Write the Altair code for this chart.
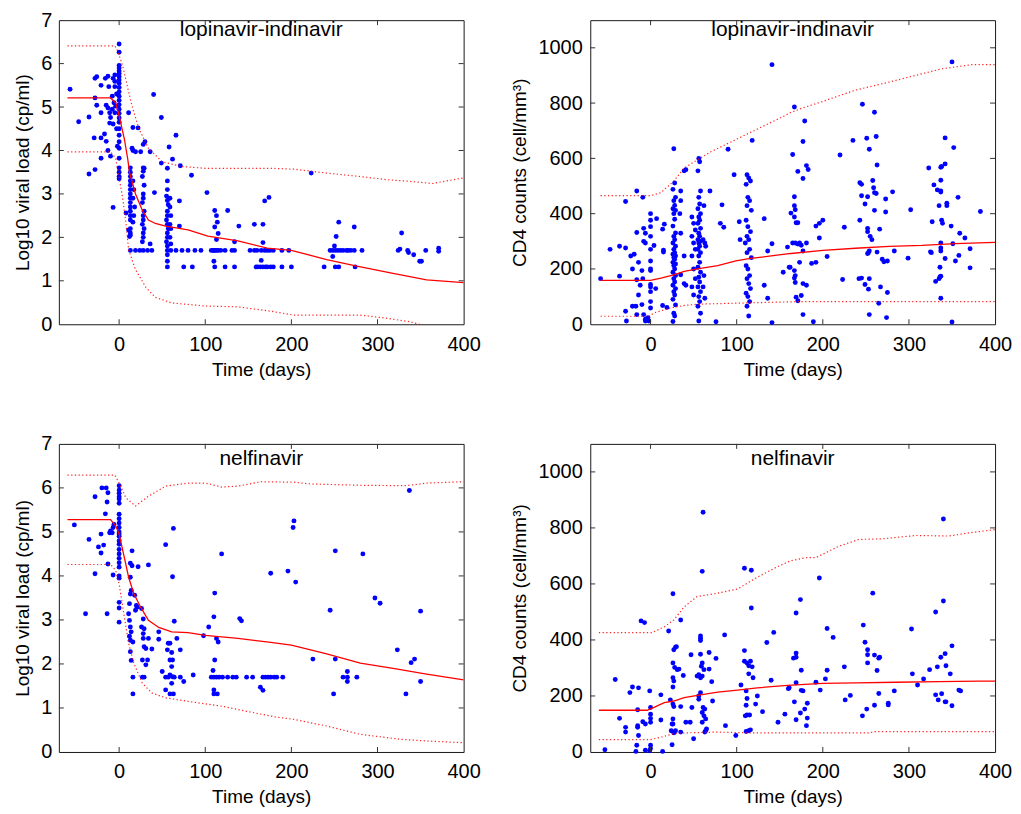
import altair as alt
import pandas as pd

FONT = "Liberation Sans"
BLUE = "#0000FF"
RED = "#FF0000"

X_LABELS = [0, 100, 200, 300, 400]
X_INNER_TICKS = [0, 100, 200, 300]
VL_LABELS = [0, 1, 2, 3, 4, 5, 6, 7]
VL_INNER_TICKS = [1, 2, 3, 4, 5, 6]
CD4_LABELS = [0, 200, 400, 600, 800, 1000]
CD4_INNER_TICKS = [200, 400, 600, 800, 1000]

# ---------------- lopinavir-indinavir : viral load ----------------
A_points = [
    (-57, 5.41), (-47, 4.66), (-35, 4.77), (-35, 3.46), (-28, 3.56), (-29, 4.29), (-28, 5.21),
    (-28, 5.66), (-26, 5.70), (-26, 5.04), (-21, 5.50), (-21, 4.87), (-21, 4.29), (-21, 3.82),
    (-17, 4.38), (-15, 4.21), (-13, 4.00), (-16, 5.66), (-13, 5.71), (-12, 5.47), (-15, 5.04),
    (-13, 4.98), (-11, 4.87), (-10, 3.87), (-7, 2.69), (-10, 4.76), (-11, 4.63), (-8, 4.95),
    (-7, 5.66), (-5, 5.59), (-5, 5.74), (-5, 5.47), (-8, 5.25), (-6, 5.10), (-5, 4.87), (-7, 4.61),
    (-4, 5.02), (-3, 4.50), (-2, 4.10), (-3, 5.30),
    (0, 6.45), (0, 6.26), (0, 5.96), (0, 5.90), (0, 5.83), (0, 5.77), (0, 5.70), (0, 5.62), (0, 5.55),
    (0, 5.45), (0, 5.35), (0, 5.25), (0, 5.15), (0, 5.05), (0, 4.95), (0, 4.85), (0, 4.75), (0, 4.65),
    (0, 4.50), (0, 4.35), (0, 4.20), (0, 4.05), (0, 3.82), (0, 3.60), (0, 3.50), (0, 3.40), (0, 3.35),
    (11, 4.87), (16, 4.53), (22, 4.52), (28, 4.14), (40, 5.29), (49, 4.76), (66, 4.35), (58, 4.08),
    (62, 3.80), (71, 3.65), (36, 3.97), (49, 3.71), (56, 3.59), (84, 3.43), (29, 3.59), (28, 3.52),
    (30, 4.20), (15, 4.05), (16, 4.00), (19, 3.97), (25, 3.97),
    (13, 3.60), (13, 3.50), (13, 3.40), (13, 3.30), (13, 3.20), (13, 3.10), (13, 3.00), (13, 2.90),
    (13, 2.80), (13, 2.70), (13, 2.60), (13, 2.50), (13, 2.40), (13, 2.20), (13, 2.10), (13, 2.05),
    (13, 1.70), (16, 3.30), (17, 3.10), (16, 2.90), (18, 2.70), (17, 2.50), (16, 2.35),
    (28, 3.60), (27, 3.40), (29, 3.20), (28, 3.00), (28, 2.90), (27, 2.80), (29, 2.60), (28, 2.50),
    (28, 2.40), (27, 2.30), (29, 2.20), (28, 2.10), (28, 2.00), (27, 1.90), (28, 1.70),
    (8, 2.56), (11, 2.17), (12, 2.02), (24, 1.70), (36, 1.85), (41, 3.03), (33, 1.70), (38, 1.70),
    (19, 1.70),
    (56, 3.30), (56, 3.10), (55, 2.95), (56, 2.85), (57, 2.75), (56, 2.60), (56, 2.50), (55, 2.40),
    (56, 2.30), (57, 2.20), (56, 2.10), (56, 2.00), (55, 1.90), (56, 1.80), (56, 1.70), (56, 1.60),
    (56, 1.45), (56, 1.32), (59, 2.90), (59, 2.70), (60, 2.50), (59, 2.30), (60, 2.20), (59, 2.00),
    (60, 1.85), (60, 1.70),
    (70, 2.84), (70, 2.26), (66, 1.70), (73, 1.70), (80, 1.70), (88, 1.70), (95, 1.70), (75, 1.32),
    (85, 1.32), (102, 3.03),
    (111, 2.62), (113, 2.50), (114, 2.35), (111, 2.24), (115, 2.09), (113, 1.95),
    (107, 1.70), (109, 1.70), (110, 1.70), (111, 1.70), (113, 1.70), (115, 1.70), (118, 1.70),
    (110, 1.45), (111, 1.32), (123, 1.32), (126, 2.62), (139, 2.26), (134, 1.90), (123, 1.70),
    (131, 1.70), (134, 1.70), (134, 1.32),
    (157, 2.30), (167, 2.30), (167, 1.88), (165, 1.47), (152, 1.70), (157, 1.70), (160, 1.70),
    (159, 1.32), (161, 1.32), (164, 1.32), (167, 1.32), (170, 1.32), (172, 1.32), (176, 1.32),
    (179, 1.32), (189, 1.32), (200, 1.32), (169, 2.84), (174, 2.92),
    (165, 1.70), (169, 1.70), (172, 1.70), (175, 1.70), (179, 1.70), (189, 1.70), (197, 1.70),
    (223, 3.48),
    (245, 1.70), (248, 1.70), (251, 1.70), (254, 1.70), (257, 1.70), (260, 1.70), (264, 1.70),
    (266, 1.70), (269, 1.70), (273, 1.70), (282, 1.70),
    (248, 1.56), (252, 2.02), (255, 2.35), (250, 1.80), (273, 2.24),
    (238, 1.32), (251, 1.32), (255, 1.32), (274, 1.32),
    (324, 1.70), (326, 1.73), (328, 2.10), (335, 1.70), (336, 1.65), (342, 1.60), (349, 1.45),
    (351, 1.45), (356, 1.70), (371, 1.75), (371, 1.68),
]
A_mean = [(-60, 5.21), (-10, 5.21), (-4, 5.10), (0, 4.80), (6, 4.27), (10, 3.80), (12, 3.50),
          (19, 3.00), (27, 2.62), (34, 2.40), (42, 2.32), (54, 2.26), (80, 2.17), (103, 2.03),
          (138, 1.92), (172, 1.75), (200, 1.70), (241, 1.49), (276, 1.34), (318, 1.17), (357, 1.02),
          (400, 0.96)]
A_upper = [(-60, 6.41), (-5, 6.41), (-2, 6.30), (4, 5.96), (10, 5.44), (15, 5.02), (23, 4.50),
           (34, 4.05), (50, 3.74), (73, 3.63), (100, 3.59), (138, 3.59), (176, 3.59), (203, 3.57),
           (241, 3.48), (280, 3.40), (310, 3.33), (337, 3.29), (364, 3.24), (400, 3.37)]
A_lower = [(-60, 3.97), (-10, 3.97), (-4, 3.82), (0, 3.37), (4, 2.92), (8, 2.32), (11, 1.71),
           (19, 1.26), (31, 0.85), (42, 0.62), (61, 0.49), (100, 0.42), (138, 0.40), (176, 0.30),
           (203, 0.21), (241, 0.21), (280, 0.21), (310, 0.14), (337, 0.06), (349, 0.0), (400, -0.25)]

# ---------------- lopinavir-indinavir : CD4 ----------------
B_points = [
    (-58, 165), (-47, 271), (-36, 282), (-29, 444), (-29, 276), (-36, 174), (-29, 47), (-28, 12),
    (-21, 200), (-23, 247), (-19, 253), (-16, 482), (-9, 459), (-16, 332), (-14, 224), (-16, 161),
    (-12, 141), (-14, 106), (-17, 65), (-21, 65), (-10, 71), (-16, 35), (-8, 35), (-6, 12),
    (-8, 347), (-6, 329), (-8, 300), (-6, 294), (-10, 194), (-9, 165),
    (0, 400), (0, 376), (0, 353), (0, 318), (0, 271), (0, 229), (0, 200), (0, 194), (0, 144),
    (0, 135), (0, 118), (0, 82), (0, 59), (-3, 24), (-2, 12), (-6, 18),
    (7, 382), (16, 362), (14, 344), (15, 268), (15, 261), (4, 285), (6, 129), (14, 68), (19, 61),
    (27, 635), (28, 511), (26, 488), (29, 459), (27, 447), (28, 430), (26, 418), (29, 412),
    (27, 400), (28, 380), (26, 355), (29, 330), (27, 318), (28, 306), (26, 294), (29, 282),
    (27, 271), (28, 259), (26, 253), (29, 247), (27, 241), (28, 235), (26, 224), (29, 218),
    (27, 212), (28, 200), (26, 188), (29, 176), (27, 165), (28, 153), (26, 141), (29, 129),
    (27, 118), (28, 106), (26, 90), (29, 70), (27, 40), (28, 30), (26, 10),
    (35, 482), (35, 447), (35, 329), (34, 400), (39, 555), (41, 559), (41, 141), (39, 247),
    (35, 179), (39, 147),
    (56, 600), (57, 588), (55, 555), (58, 482), (56, 459), (57, 435), (55, 418), (58, 400),
    (56, 388), (57, 376), (55, 365), (58, 347), (56, 329), (57, 318), (55, 306), (58, 300),
    (56, 294), (57, 282), (55, 271), (58, 259), (56, 247), (57, 224), (55, 206), (58, 188),
    (56, 170), (57, 153), (55, 135), (58, 118), (56, 100), (57, 82), (55, 65), (58, 40), (56, 12),
    (48, 388), (50, 365), (52, 341), (48, 318), (50, 294), (52, 271), (48, 247), (50, 200),
    (52, 165), (48, 135), (50, 106),
    (62, 429), (61, 306), (63, 294), (64, 282), (62, 176), (61, 135), (63, 94),
    (69, 482), (76, 9), (81, 365), (85, 351), (83, 432), (90, 633), (97, 541),
    (118, 665), (112, 541), (114, 529), (116, 518), (111, 506), (113, 459), (115, 447), (112, 429),
    (117, 412), (111, 376), (113, 353), (116, 335), (112, 318), (114, 306), (110, 294), (115, 271),
    (112, 259), (117, 241), (111, 212), (113, 200), (115, 176), (112, 165), (114, 147), (116, 129),
    (111, 112), (113, 100), (115, 82), (112, 65), (114, 30),
    (103, 371), (104, 306),
    (132, 382), (136, 265), (141, 939), (141, 291), (141, 6), (136, 94), (132, 141), (154, 188),
    (159, 279), (161, 206),
    (167, 786), (179, 735), (177, 661), (165, 614), (171, 553), (181, 574), (183, 560), (177, 527),
    (167, 461), (167, 429), (168, 414), (167, 388), (169, 367), (171, 367), (163, 402), (165, 294),
    (168, 294), (171, 290), (173, 294), (175, 286), (181, 294), (177, 265), (162, 206), (173, 224),
    (167, 194), (168, 176), (167, 167), (168, 151), (177, 147), (181, 141), (169, 98), (175, 104),
    (171, 85), (177, 35), (189, 9), (192, 355), (196, 365), (200, 376), (196, 312), (187, 220),
    (192, 224), (205, 245), (220, 612), (225, 351), (223, 162), (235, 665), (246, 796), (251, 673),
    (254, 633), (262, 679), (260, 767), (263, 576), (243, 512), (245, 506), (258, 520), (259, 494),
    (260, 476), (262, 473), (245, 465), (252, 461), (249, 435), (260, 412), (273, 453), (281, 479),
    (273, 406), (243, 376), (252, 347), (252, 335), (255, 318), (257, 306), (266, 344), (254, 265),
    (252, 256), (253, 259), (263, 261), (269, 235), (271, 226), (275, 229), (283, 265), (299, 239),
    (302, 414), (242, 165), (245, 167), (249, 144), (254, 165), (253, 127), (267, 135), (275, 115),
    (265, 76), (254, 35), (274, 24),
    (323, 565), (327, 371), (326, 259), (325, 262), (329, 504), (333, 486), (337, 482), (337, 478),
    (337, 568), (338, 571), (342, 580), (342, 674), (352, 639), (337, 521), (335, 429), (344, 438),
    (344, 429), (338, 376), (339, 365), (349, 355), (337, 294), (337, 276), (337, 265), (342, 238),
    (336, 206), (336, 171), (337, 174), (335, 165), (331, 155), (337, 94), (350, 8), (351, 291),
    (354, 229), (358, 249), (357, 459), (359, 329), (365, 312), (371, 273), (371, 204), (383, 408),
    (350, 949),
]
B_mean = [(-58, 159), (0, 159), (12, 167), (27, 179), (39, 191), (58, 202), (78, 212), (99, 229),
          (116, 238), (140, 247), (163, 256), (200, 267), (238, 275), (277, 282), (315, 285),
          (354, 292), (400, 296)]
B_upper = [(-58, 465), (0, 465), (12, 476), (27, 518), (39, 565), (54, 594), (70, 624), (97, 665),
           (124, 706), (155, 753), (162, 765), (176, 782), (200, 806), (238, 847), (277, 876),
           (315, 906), (338, 924), (373, 939), (400, 939)]
B_lower = [(-58, 29), (-2, 29), (4, 41), (23, 59), (39, 68), (58, 73), (97, 76), (136, 79),
           (174, 82), (400, 82)]

# ---------------- nelfinavir : viral load ----------------
C_points = [
    (-52, 5.16), (-39, 3.14), (-35, 4.83), (-28, 5.80), (-28, 4.05), (-24, 4.66), (-21, 4.52),
    (-21, 4.95), (-18, 4.70), (-20, 6.00), (-16, 5.41), (-15, 6.00), (-13, 5.89), (-14, 5.68),
    (-14, 3.14), (-13, 4.27), (-11, 4.98), (-10, 5.02), (-8, 4.98), (-7, 5.10), (-6, 5.17),
    (-7, 4.02),
    (0, 6.05), (0, 5.95), (0, 5.88), (0, 5.80), (0, 5.75), (0, 5.65), (0, 5.40), (0, 5.30),
    (0, 5.20), (0, 5.10), (0, 5.00), (0, 4.95), (0, 4.90), (0, 4.80), (0, 4.72), (0, 4.60),
    (0, 4.50), (0, 4.40), (0, 4.30), (0, 4.20), (0, 4.00), (0, 3.95), (0, 3.40), (0, 3.27), (0, 2.95),
    (15, 4.57), (13, 4.29), (15, 4.23), (22, 4.21), (34, 4.25), (13, 3.97),
    (14, 3.67), (13, 3.59), (12, 3.37), (11, 3.14), (12, 2.99), (13, 2.84), (12, 2.63), (13, 2.54),
    (14, 2.73), (16, 2.50), (13, 2.28), (14, 2.08), (16, 1.70), (16, 1.32),
    (18, 3.56), (20, 3.33), (21, 3.29), (19, 3.22), (26, 3.26), (28, 3.02), (26, 2.84), (29, 2.80),
    (28, 2.69), (28, 2.58), (29, 2.39), (31, 2.35), (33, 2.09), (27, 2.09), (31, 1.98), (27, 1.70),
    (29, 1.70),
    (34, 2.58), (38, 2.34), (46, 2.73), (46, 2.56),
    (54, 4.71), (63, 5.08), (62, 3.98), (64, 2.97),
    (57, 2.47), (59, 2.47), (56, 2.32), (61, 2.26), (59, 2.09), (62, 2.09), (61, 1.94), (50, 1.83),
    (54, 1.70), (57, 1.70), (59, 1.75), (62, 1.71), (64, 1.70), (61, 1.56), (54, 1.41), (59, 1.32),
    (63, 1.32), (71, 2.32), (71, 1.70), (75, 1.60), (86, 1.75), (67, 2.58),
    (98, 2.64), (104, 2.84), (110, 3.07), (111, 3.61), (111, 2.09), (109, 1.85), (113, 2.58),
    (115, 2.50), (119, 4.50),
    (107, 1.70), (110, 1.70), (113, 1.70), (116, 1.70), (120, 1.70), (126, 1.70), (132, 1.70),
    (136, 1.70), (110, 1.41), (110, 1.32), (114, 1.32), (140, 3.03), (142, 2.98),
    (148, 1.70), (155, 1.70), (167, 1.70), (170, 1.70), (173, 1.70), (176, 1.70), (180, 1.70),
    (183, 1.70), (190, 1.70), (164, 1.47), (167, 1.40), (176, 4.06),
    (196, 4.11), (203, 5.25), (202, 5.10), (205, 3.86), (225, 2.11), (245, 3.22), (251, 4.57),
    (251, 2.11), (249, 1.32), (260, 1.70), (265, 1.83), (265, 1.70), (265, 1.60), (276, 1.70),
    (283, 4.50), (297, 3.50), (303, 3.38), (323, 2.32), (333, 1.32), (337, 5.94), (339, 2.03),
    (343, 2.11), (350, 3.20), (350, 1.60),
]
C_mean = [(-60, 5.28), (-10, 5.28), (-4, 5.14), (0, 4.95), (6, 4.42), (11, 3.97), (17, 3.60),
          (25, 3.29), (34, 2.99), (46, 2.83), (61, 2.73), (80, 2.71), (100, 2.65), (138, 2.58),
          (176, 2.49), (200, 2.43), (241, 2.23), (280, 2.02), (318, 1.90), (357, 1.77), (400, 1.64)]
C_upper = [(-60, 6.29), (-5, 6.29), (0, 6.11), (8, 5.77), (19, 5.59), (34, 5.81), (54, 6.04),
           (80, 6.11), (100, 6.11), (119, 6.02), (138, 6.04), (165, 6.14), (203, 6.13), (222, 6.09),
           (280, 6.06), (333, 6.05), (357, 6.11), (400, 6.14)]
C_lower = [(-60, 4.26), (-10, 4.26), (-4, 4.12), (0, 3.82), (6, 3.07), (11, 2.47), (17, 2.02),
           (27, 1.56), (38, 1.34), (54, 1.23), (80, 1.15), (119, 1.04), (157, 0.89), (180, 0.80),
           (203, 0.74), (241, 0.59), (280, 0.40), (326, 0.29), (357, 0.25), (400, 0.21)]

# ---------------- nelfinavir : CD4 ----------------
D_points = [
    (-53, 8), (-41, 259), (-36, 120), (-29, 88), (-29, 71), (-24, 212), (-21, 232), (-14, 229),
    (-17, 2), (-16, 24), (-15, 88), (-15, 94), (-14, 59), (-15, 151), (-11, 468), (-7, 462),
    (-9, 108), (-6, 100), (-6, 6), (-1, 218), (0, 159), (0, 135), (0, 120), (0, 106), (0, 24),
    (0, 12), (-1, 4),
    (12, 204), (12, 114), (14, 2), (21, 432), (26, 565), (35, 471), (23, 186), (27, 162), (26, 100),
    (27, 365), (29, 374), (30, 376), (26, 318), (28, 302), (33, 296), (31, 294), (38, 273),
    (26, 265), (27, 253), (26, 232), (26, 171), (26, 118), (25, 100), (24, 76), (29, 76), (27, 68),
    (35, 71), (25, 26), (35, 162), (41, 106), (46, 106), (47, 347), (48, 159), (50, 47),
    (54, 271), (56, 276), (58, 265), (60, 271), (56, 200), (58, 212), (56, 188), (58, 406),
    (58, 398), (58, 414), (58, 349), (60, 645), (61, 856), (59, 306), (60, 318), (62, 294),
    (61, 159), (63, 153), (60, 141), (62, 129), (60, 106), (64, 118), (65, 82), (64, 76), (63, 71),
    (68, 355), (68, 296), (71, 251), (72, 182), (76, 334), (87, 94), (86, 418), (99, 59),
    (105, 239), (109, 362), (109, 324), (109, 656), (117, 649), (117, 514), (111, 218), (112, 191),
    (111, 167), (112, 132), (110, 129), (115, 132), (112, 318), (114, 308), (116, 324), (118, 304),
    (119, 265), (114, 279), (111, 73), (114, 76), (116, 79), (124, 200), (122, 171), (130, 144),
    (135, 391), (143, 427), (140, 256), (148, 106), (156, 135), (160, 226), (161, 229),
    (166, 335), (169, 338), (169, 353), (169, 496), (174, 544), (175, 292), (169, 247), (175, 220),
    (177, 218), (167, 179), (174, 139), (179, 153), (182, 174), (169, 115), (182, 121), (181, 94),
    (196, 621), (197, 221), (192, 249), (203, 261), (205, 441), (205, 292), (212, 409), (225, 304),
    (226, 186), (232, 202), (247, 453), (249, 392), (252, 365), (252, 347), (252, 318), (258, 567),
    (260, 346), (265, 335), (266, 338), (263, 291), (265, 209), (260, 167), (251, 153), (246, 129),
    (276, 174), (276, 168), (283, 218), (303, 439), (304, 279), (310, 239), (317, 261), (324, 294),
    (331, 500), (333, 304), (331, 204), (334, 186), (338, 208), (342, 179), (343, 179), (350, 165),
    (337, 338), (342, 351), (343, 308), (348, 279), (350, 379), (340, 539), (340, 832), (358, 221),
    (360, 218),
]
D_mean = [(-60, 149), (-4, 149), (4, 159), (16, 176), (27, 182), (39, 194), (58, 204), (78, 214),
          (101, 221), (124, 229), (159, 238), (200, 245), (238, 247), (285, 249), (335, 251),
          (381, 253), (400, 253)]
D_upper = [(-60, 426), (2, 426), (16, 447), (27, 471), (39, 518), (54, 555), (78, 567), (101, 582),
           (124, 624), (147, 661), (162, 682), (181, 694), (192, 694), (219, 735), (242, 759),
           (269, 761), (308, 773), (346, 771), (369, 782), (400, 794)]
D_lower = [(-60, 44), (0, 44), (12, 53), (27, 65), (39, 68), (78, 71), (116, 68), (155, 68),
           (254, 68), (260, 73), (400, 73)]


def frame(pairs):
    return pd.DataFrame(pairs, columns=["day", "val"])


def panel(points, mean, upper, lower, title, ydom, ylabels, yinner, ytitle, w, h, title_y, ylabpad):
    xsc = alt.Scale(domain=[-70, 400], nice=False, zero=False)
    ysc = alt.Scale(domain=ydom, nice=False, zero=False)
    X = alt.X("day:Q", scale=xsc,
              axis=alt.Axis(values=X_LABELS, format="d", title="Time (days)",
                            labelPadding=10, titlePadding=6))
    Y = alt.Y("val:Q", scale=ysc,
              axis=alt.Axis(values=ylabels, format="d", title=ytitle,
                            labelPadding=ylabpad, titlePadding=8))
    pts = alt.Chart(frame(points)).mark_point(
        shape="circle", filled=True, size=24, color=BLUE, opacity=1
    ).encode(x=X, y=Y)
    m = alt.Chart(frame(mean)).mark_line(color=RED, strokeWidth=1.3, clip=True).encode(x=X, y=Y)
    u = alt.Chart(frame(upper)).mark_line(
        color=RED, strokeWidth=1.2, strokeDash=[1.3, 2.4], clip=True, opacity=0.85
    ).encode(x=X, y=Y)
    lo = alt.Chart(frame(lower)).mark_line(
        color=RED, strokeWidth=1.2, strokeDash=[1.3, 2.4], clip=True, opacity=0.85
    ).encode(x=X, y=Y)
    xt = pd.DataFrame({"day": X_INNER_TICKS})
    yt = pd.DataFrame({"val": yinner})
    tick_col = "#333333"
    xt_top = alt.Chart(xt).mark_rule(color=tick_col, strokeWidth=1).encode(
        x=X, y=alt.value(0), y2=alt.value(5))
    xt_bot = alt.Chart(xt).mark_rule(color=tick_col, strokeWidth=1).encode(
        x=X, y=alt.value(h - 5), y2=alt.value(h))
    yt_left = alt.Chart(yt).mark_rule(color=tick_col, strokeWidth=1).encode(
        y=Y, x=alt.value(0), x2=alt.value(5))
    yt_right = alt.Chart(yt).mark_rule(color=tick_col, strokeWidth=1).encode(
        y=Y, x=alt.value(w - 5), x2=alt.value(w))
    ttl = alt.Chart(pd.DataFrame({"t": [title]})).mark_text(
        font=FONT, fontSize=21, color="black", align="center", baseline="alphabetic"
    ).encode(text="t:N", x=alt.value(w / 2), y=alt.value(title_y))
    return alt.layer(pts, m, u, lo, xt_top, xt_bot, yt_left, yt_right, ttl).properties(
        width=w, height=h)


W = 406
H_TOP = 305
H_BOT = 309

pA = panel(A_points, A_mean, A_upper, A_lower, "lopinavir-indinavir", [0, 7], VL_LABELS,
           VL_INNER_TICKS, "Log10 viral load (cp/ml)", W, H_TOP, 16, 7)
pB = panel(B_points, B_mean, B_upper, B_lower, "lopinavir-indinavir", [0, 1100], CD4_LABELS,
           CD4_INNER_TICKS, "CD4 counts (cell/mm³)", W, H_TOP, 16, 8)
pC = panel(C_points, C_mean, C_upper, C_lower, "nelfinavir", [0, 7], VL_LABELS,
           VL_INNER_TICKS, "Log10 viral load (cp/ml)", W, H_BOT, 21, 7)
pD = panel(D_points, D_mean, D_upper, D_lower, "nelfinavir", [0, 1100], CD4_LABELS,
           CD4_INNER_TICKS, "CD4 counts (cell/mm³)", W, H_BOT, 21, 8)

chart = alt.ConcatChart(
    concat=[pA, pB, pC, pD],
    columns=2,
    spacing={"row": 120, "column": 127},
    bounds="flush",
    padding={"left": 5, "top": 0, "right": 0, "bottom": 0},
).configure_axis(
    labelFont=FONT, labelFontSize=20, labelColor="black",
    titleFont=FONT, titleFontSize=19, titleFontWeight="normal", titleColor="black",
    ticks=False, tickSize=0, domain=False, grid=False, labelFlush=False, labelOverlap=False,
).configure_view(stroke="#1a1a1a", strokeWidth=1)

chart.save("out.html", embed_options={"renderer": "svg", "actions": False})
